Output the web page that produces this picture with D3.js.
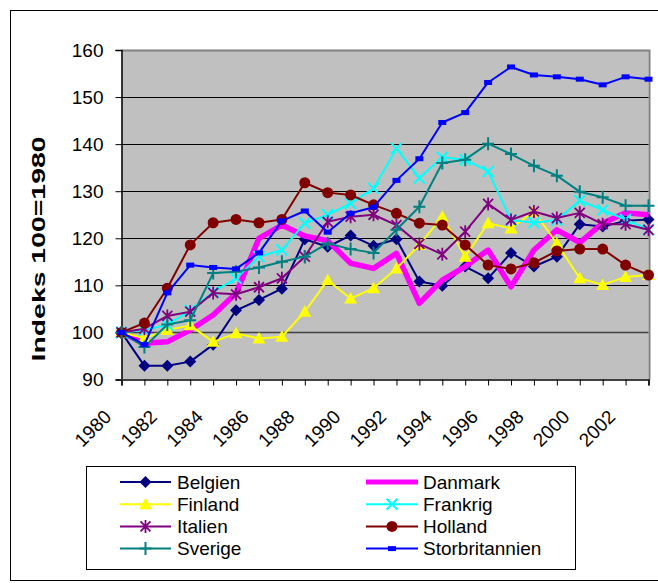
<!DOCTYPE html>
<html><head><meta charset="utf-8">
<script src="https://cdn.jsdelivr.net/npm/d3@7"></script>
<style>body{margin:0;background:#fff}svg{display:block;font-family:Arial,"Liberation Sans",sans-serif}</style>
</head><body><svg id="c" width="658" height="583"></svg>
<script>
const years = [1980,1981,1982,1983,1984,1985,1986,1987,1988,1989,1990,1991,1992,1993,1994,1995,1996,1997,1998,1999,2000,2001,2002,2003];
const xLabels = [1980,1982,1984,1986,1988,1990,1992,1994,1996,1998,2000,2002];
const yTicks = [90,100,110,120,130,140,150,160];
const seriesNames = ["Belgien","Danmark","Finland","Frankrig","Italien","Holland","Sverige","Storbritannien"];
const belgien = [100,92.9,92.9,93.8,97.4,104.7,106.9,109.3,119.8,118.2,120.6,118.4,119.8,110.8,109.9,114.0,111.5,116.9,114.0,116.1,123.0,122.5,123.7,124.0];
const danmark = [100,97.7,98.0,100.5,103.7,108.3,120.0,122.8,120.5,119.5,114.7,113.6,116.8,106.2,111.1,114.0,117.5,109.7,117.5,121.8,119.1,123.2,125.4,125.0];
const finland = [100,98.8,100.5,101.5,98.0,99.8,98.7,99.1,104.4,111.1,107.2,109.4,113.6,118.6,124.6,116.1,123.2,122.1,125.7,118.9,111.5,110.1,111.8,112.2];
const frankrig = [100,100.5,101.6,104.7,108.6,111.5,116.1,117.5,123.2,125.0,127.4,130.6,139.1,132.8,137.2,136.7,134.2,123.9,123.3,123.9,128.0,126.0,124.0,121.8];
const italien = [100,100.8,103.5,104.4,108.4,108.1,109.6,111.5,116.1,123.5,124.6,125.0,122.8,118.8,116.6,121.4,127.3,123.9,125.7,124.3,125.4,123.0,123.0,121.8];
const holland = [100,102.0,109.4,118.6,123.3,124.0,123.3,124.0,131.8,129.7,129.2,127.1,125.3,123.2,122.8,118.6,114.3,113.5,114.8,117.3,117.7,117.7,114.3,112.2];
const sverige = [100,96.9,101.7,102.6,112.6,112.9,113.8,115.0,116.1,118.9,117.7,116.9,121.8,126.7,136.0,136.7,140.1,137.9,135.4,133.3,129.9,128.7,126.9,126.9];
const storbritannien = [100,97.4,108.4,114.3,113.8,113.5,116.9,123.7,125.8,121.3,125.3,126.6,132.3,136.9,144.6,146.7,153.1,156.4,154.7,154.3,153.8,152.6,154.3,153.8];

const seriesData = [belgien,danmark,finland,frankrig,italien,holland,sverige,storbritannien];
const colors = ["#000080","#FF00FF","#FFFF00","#00FFFF","#800080","#800000","#008080","#0000FF"];
const markers = ["diamond","none","triangle","x","asterisk","circle","plus","dash"];
const widths = [2,5.5,2,2,2,2,2,2];

const svg = d3.select("#c");
const L=121.5, R=648.5, T=50, B=379.5;
const x = d3.scalePoint().domain(years).range([L, R]);
const y = d3.scaleLinear().domain([90,160]).range([B, T]);

// outer border
svg.append("rect").attr("x",10.5).attr("y",10.5).attr("width",680).attr("height",570).attr("fill","#fff").attr("stroke","#000");

// plot area
svg.append("rect").attr("x",L).attr("y",T).attr("width",R-L).attr("height",B-T).attr("fill","#C0C0C0");
svg.append("path").attr("d",`M${L},${T+0.5}H${R+1}V${B}`).attr("fill","none").attr("stroke","#808080").attr("stroke-width",2);

// gridlines
svg.append("g").selectAll("line").data(yTicks.filter(v=>v>90 && v<160)).join("line")
  .attr("x1",L).attr("x2",R).attr("y1",d=>Math.round(y(d))+0.5).attr("y2",d=>Math.round(y(d))+0.5)
  .attr("stroke",d=>d===100?"#404040":"#000").attr("stroke-width",d=>d===100?1.6:1);

// y axis
const ya = svg.append("g").attr("transform",`translate(${L},0)`)
  .call(d3.axisLeft(y).tickValues(yTicks).tickSize(6).tickPadding(12));
ya.select(".domain").attr("stroke","#000").attr("stroke-width",1.5);
ya.selectAll("text").attr("font-size",19).attr("font-family","Arial, 'Liberation Sans', sans-serif").attr("fill","#000");

// x axis
const xa = svg.append("g").attr("transform",`translate(0,${B})`)
  .call(d3.axisBottom(x).tickValues(years).tickSize(6).tickFormat(""));
xa.select(".domain").attr("stroke","#404040").attr("stroke-width",2);
svg.append("g").selectAll("text").data(xLabels).join("text")
  .attr("transform",d=>`translate(${x(d)-9},${418}) rotate(-45)`)
  .attr("text-anchor","end").attr("font-size",19).attr("fill","#000").text(d=>d);

// y title
svg.append("text").attr("transform","translate(45,249) rotate(-90)")
  .attr("text-anchor","middle").attr("font-size",19).attr("font-weight","bold")
  .attr("textLength",225).attr("lengthAdjust","spacingAndGlyphs").text("Indeks 100=1980");

function drawMarker(g, type, color){
  if(type==="diamond") g.append("path").attr("d","M0,-6L6,0L0,6L-6,0Z").attr("fill",color);
  else if(type==="triangle") g.append("path").attr("d","M0,-6.5L6.5,5L-6.5,5Z").attr("fill",color);
  else if(type==="circle") g.append("circle").attr("r",5.5).attr("fill",color);
  else if(type==="x") g.append("path").attr("d","M-5.5,-5.5L5.5,5.5M-5.5,5.5L5.5,-5.5").attr("stroke",color).attr("stroke-width",2).attr("fill","none");
  else if(type==="asterisk") g.append("path").attr("d","M-5,-5L5,5M-5,5L5,-5M0,-6.5L0,6.5").attr("stroke",color).attr("stroke-width",1.8).attr("fill","none");
  else if(type==="plus") g.append("path").attr("d","M-6,0L6,0M0,-6.5L0,6.5").attr("stroke",color).attr("stroke-width",2).attr("fill","none");
  else if(type==="dash") g.append("rect").attr("x",-4).attr("y",-2.5).attr("width",8).attr("height",5).attr("fill",color);
}

const line = d3.line().x((d,i)=>x(years[i])).y(d=>y(d));
const clip = svg.append("clipPath").attr("id","pc").append("rect").attr("x",L-8).attr("y",T-8).attr("width",R-L+16).attr("height",B-T+16);
const plot = svg.append("g");
seriesData.forEach((data,k)=>{
  const g = plot.append("g");
  g.append("path").attr("d",line(data)).attr("fill","none").attr("stroke",colors[k]).attr("stroke-width",widths[k]).attr("stroke-linejoin","round");
  if(markers[k]!=="none"){
    data.forEach((v,i)=>{
      const mg = g.append("g").attr("transform",`translate(${x(years[i])},${y(v)})`);
      drawMarker(mg, markers[k], colors[k]);
    });
  }
});

// legend
svg.append("rect").attr("x",86.5).attr("y",466.5).attr("width",489).attr("height",103).attr("fill","#fff").attr("stroke","#000");
seriesNames.forEach((name,k)=>{
  const col = k%2, row = Math.floor(k/2);
  const cy = 482 + row*22.2;
  const x0 = col===0?120:366, x1 = col===0?171:418, tx = col===0?177:423;
  const g = svg.append("g");
  g.append("line").attr("x1",x0).attr("x2",x1).attr("y1",cy).attr("y2",cy).attr("stroke",colors[k]).attr("stroke-width",k===1?5:2);
  if(markers[k]!=="none") drawMarker(g.append("g").attr("transform",`translate(${(x0+x1)/2},${cy})`), markers[k], colors[k]);
  g.append("text").attr("x",tx).attr("y",cy).attr("dy","0.35em").attr("font-size",19).attr("fill","#000").text(name);
});
</script></body></html>
